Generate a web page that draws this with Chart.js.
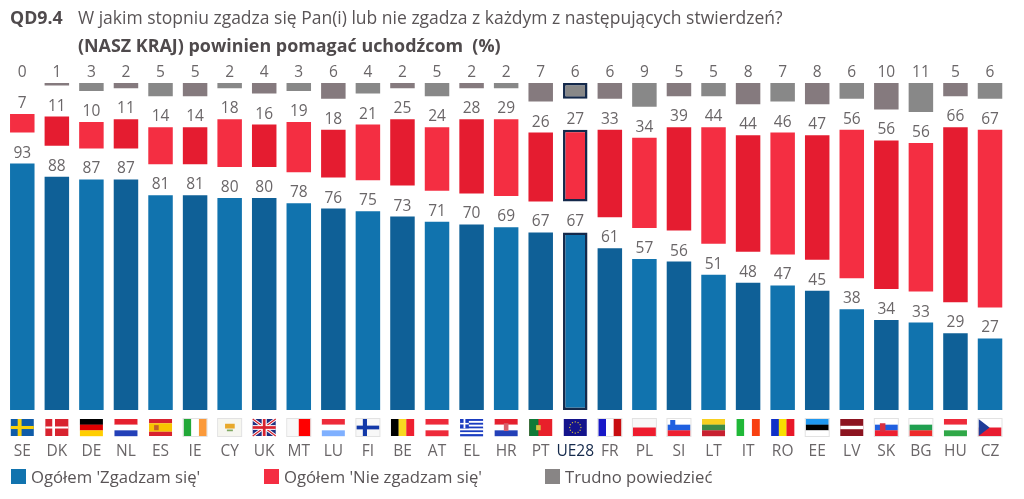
<!DOCTYPE html>
<html lang="pl"><head><meta charset="utf-8">
<style>
html,body{margin:0;padding:0;background:#fff;width:1024px;height:499px;overflow:hidden}
#wrap{position:relative;width:1024px;height:499px;font-family:"Open Sans",sans-serif;color:#595456}
canvas{position:absolute;left:0;top:0}
.t{position:absolute;white-space:nowrap}
.sw{position:absolute;width:15px;height:15px;top:469px}
.lg{position:absolute;top:465px;font-size:16.7px;white-space:nowrap}
</style></head><body>
<div id="wrap">
<canvas id="c" width="1024" height="499"></canvas>
<div class="t" style="left:10px;top:5px;font-size:17.8px;font-weight:700;color:#4f4a4c">QD9.4</div>
<div class="t" style="left:78px;top:5px;font-size:17.5px">W jakim stopniu zgadza się Pan(i) lub nie zgadza z każdym z następujących stwierdzeń?</div>
<div class="t" style="left:78px;top:33px;font-size:17.9px;font-weight:700;color:#4f4a4c">(NASZ KRAJ) powinien pomagać uchodźcom&nbsp; (%)</div>
<div class="sw" style="left:11px;background:#1173ae"></div><div class="lg" style="left:31px">Ogółem 'Zgadzam się'</div>
<div class="sw" style="left:264px;background:#f42e42"></div><div class="lg" style="left:284px">Ogółem 'Nie zgadzam się'</div>
<div class="sw" style="left:545px;background:#888585"></div><div class="lg" style="left:565px">Trudno powiedzieć</div>
</div>
<script src="https://cdn.jsdelivr.net/npm/chart.js@4"></script>
<script>
const categories=['SE','DK','DE','NL','ES','IE','CY','UK','MT','LU','FI','BE','AT','EL','HR','PT','UE28','FR','PL','SI','LT','IT','RO','EE','LV','SK','BG','HU','CZ'];
const agree=[93,88,87,87,81,81,80,80,78,76,75,73,71,70,69,67,67,61,57,56,51,48,47,45,38,34,33,29,27];
const disagree=[7,11,10,11,14,14,18,16,19,18,21,25,24,28,29,26,27,33,34,39,44,44,46,47,56,56,56,66,67];
const dontKnow=[0,1,3,2,5,5,2,4,3,6,4,2,5,2,2,7,6,6,9,5,5,8,7,8,6,10,11,5,6];
const GAP=11.7;
const gapValues=categories.map(()=>GAP);
const HI=categories.indexOf('UE28');
const alt=(a,b)=>categories.map((_,i)=>i%2?b:a);
const border=categories.map((_,i)=>i===HI?2.5:0);
const navy='#14294b';
const common={stack:'s',barPercentage:1,categoryPercentage:24.5/34.57,borderSkipped:false,borderColor:navy,borderWidth:border};
const spacer={stack:'s',barPercentage:1,categoryPercentage:24.5/34.57,backgroundColor:'rgba(0,0,0,0)',borderWidth:0,isSpacer:true};

const flags={
 SE:{draw:(g,x,y,w,h)=>{g('#0f5ca8',x,y,w,h);g('#f8d00a',x+w*.3,y,w*.17,h);g('#f8d00a',x,y+h*.41,w,h*.18)}},
 DK:{draw:(g,x,y,w,h)=>{g('#d8232f',x,y,w,h);g('#fff',x+w*.3,y,w*.12,h);g('#fff',x,y+h*.44,w,h*.12)}},
 DE:{h:['#000','#dd0000','#ffce00']},NL:{h:['#e5202e','#fff','#2340b8']},
 ES:{draw:(g,x,y,w,h)=>{g('#d8232f',x,y,w,h*.25);g('#f8c400',x,y+h*.25,w,h*.5);g('#d8232f',x,y+h*.75,w,h*.25);g('#c2612a',x+w*.22,y+h*.36,w*.2,h*.3)}},
 IE:{v:['#22a838','#fff','#fb9a3a']},
 CY:{draw:(g,x,y,w,h)=>{g('#f6f6f0',x,y,w,h);g('#e8a82a',x+w*.3,y+h*.28,w*.42,h*.28);g('#7fa860',x+w*.38,y+h*.62,w*.26,h*.1)}},
 UK:{draw:(g,x,y,w,h,c)=>{g('#1f2f80',x,y,w,h);c.strokeStyle='#fff';c.lineWidth=3;c.beginPath();c.moveTo(x,y);c.lineTo(x+w,y+h);c.moveTo(x+w,y);c.lineTo(x,y+h);c.stroke();c.strokeStyle='#d8232f';c.lineWidth=1.2;c.stroke();g('#fff',x,y+h*.36,w,h*.28);g('#fff',x+w*.39,y,w*.22,h);g('#d8232f',x,y+h*.42,w,h*.16);g('#d8232f',x+w*.44,y,w*.12,h)}},
 MT:{v:['#f8f8f8','#ff0000'],edge:1},LU:{h:['#ee2a3a','#fff','#7fb0ff']},
 FI:{draw:(g,x,y,w,h)=>{g('#f8f8f8',x,y,w,h);g('#1238a8',x+w*.28,y,w*.18,h);g('#1238a8',x,y+h*.39,w,h*.22)}},
 BE:{v:['#000','#f8d820','#ee2030']},AT:{h:['#ee2a3a','#fff','#ee2a3a']},
 EL:{draw:(g,x,y,w,h)=>{for(let i=0;i<9;i++)g(i%2?'#fff':'#1a3cc0',x,y+i*h/9,w,h/9+.3);g('#1a3cc0',x,y,w*.38,h*.55);g('#fff',x+w*.15,y,w*.08,h*.55);g('#fff',x,y+h*.23,w*.38,h*.09)}},
 HR:{h:['#e5202e','#fff','#2340b8'],crest:1},
 PT:{draw:(g,x,y,w,h)=>{g('#e8202a',x,y,w,h);g('#0f7a38',x,y,w*.4,h);g('#d8c040',x+w*.3,y+h*.36,w*.2,h*.3)}},
 UE28:{draw:(g,x,y,w,h,c)=>{g('#14148c',x,y,w,h);c.fillStyle='#c8b840';for(let i=0;i<12;i++){const a=i*Math.PI/6;c.fillRect(x+w/2+Math.cos(a)*h*.33-.6,y+h/2+Math.sin(a)*h*.33-.6,1.2,1.2)}}},
 FR:{v:['#1818c8','#fff','#c80d10']},PL:{h:['#f8f8f8','#ee1c2e']},
 SI:{h:['#fff','#2060e0','#ee2030'],crest2:1},LT:{h:['#f8d020','#3c8a48','#c82030']},
 IT:{v:['#20b838','#fff','#f84010']},RO:{v:['#1030c8','#f8e000','#e81828']},
 EE:{h:['#1f98f0','#000','#fff'],edge:1},
 LV:{draw:(g,x,y,w,h)=>{g('#8c1420',x,y,w,h);g('#fff',x,y+h*.4,w,h*.2)}},
 SK:{h:['#fff','#2060e0','#ee2030'],crest3:1},BG:{h:['#fff','#20a050','#ee2a2a'],edge:1},
 HU:{h:['#ee2a3a','#fff','#30a848']},
 CZ:{draw:(g,x,y,w,h,c)=>{g('#fff',x,y,w,h/2);g('#e81c30',x,y+h/2,w,h/2);c.fillStyle='#1f3c98';c.beginPath();c.moveTo(x,y);c.lineTo(x+w*.48,y+h/2);c.lineTo(x,y+h);c.fill()}}
};
const flagPlugin={id:'flags',afterDraw(ch){
 const c=ch.ctx,sx=ch.scales.x,w=23,h=17,y=419;
 const g=(col,a,b,cw,ch2)=>{c.fillStyle=col;c.fillRect(a,b,cw,ch2)};
 categories.forEach((n,i)=>{
  const x=sx.getPixelForValue(i)-w/2,f=flags[n];c.save();
  if(f.h){const s=h/f.h.length;f.h.forEach((col,k)=>g(col,x,y+k*s,w,s+.2))}
  else if(f.v){const s=w/f.v.length;f.v.forEach((col,k)=>g(col,x+k*s,y,s+.2,h))}
  else if(f.draw)f.draw(g,x,y,w,h,c);
  if(f.crest)g('#d8606a',x+w*.4,y+h*.25,w*.2,h*.45);
  if(f.crest2)g('#2060e0',x+w*.12,y+1,w*.22,h*.42);
  if(f.crest3)g('#d83040',x+w*.22,y+h*.25,w*.24,h*.5);
  if(f.edge||['PL','SI','SK','CY','FI','CZ','IE','FR'].includes(n)){c.strokeStyle='#e2e2e2';c.lineWidth=1;c.strokeRect(x-.5,y-.5,w+1,h+1)}
  c.restore();
 });
}};
const labelPlugin={id:'vals',afterDatasetsDraw(ch){
 const c=ch.ctx;c.save();c.font='15.5px "Open Sans",sans-serif';c.textAlign='center';c.textBaseline='alphabetic';c.fillStyle='#6a6668';
 ch.data.datasets.forEach((d,di)=>{ if(d.isSpacer)return;
  ch.getDatasetMeta(di).data.forEach((b,i)=>{
   c.fillText(String(d.labelValues[i]),b.x,(d.labelTopScale?ch.scales.y.getPixelForValue(100+2*GAP):Math.min(b.y,b.base))-6);
  });
 });c.restore();
}};
new Chart(document.getElementById('c'),{
 type:'bar',
 data:{labels:categories,datasets:[
  {...common,label:"Ogółem 'Zgadzam się'",data:agree,labelValues:agree,backgroundColor:alt('#1173ae','#0f6097')},
  {...spacer,label:'gap1',data:gapValues},
  {...common,label:"Ogółem 'Nie zgadzam się'",data:disagree,labelValues:disagree,backgroundColor:alt('#f42e42','#e51c30')},
  {...spacer,label:'gap2',data:gapValues},
  {...common,label:'Trudno powiedzieć',data:dontKnow,labelValues:dontKnow,labelTopScale:true,backgroundColor:alt('#888888','#857a7e')}
 ]},
 options:{responsive:false,animation:false,
  layout:{padding:{left:5,right:16.7,top:0,bottom:0}},
  plugins:{legend:{display:false},tooltip:{enabled:false},title:{display:false}},
  scales:{
   x:{stacked:true,position:'bottom',grid:{display:false},border:{display:false},
      ticks:{padding:24,autoSkip:false,maxRotation:0,font:{family:'"Open Sans",sans-serif',size:15.5},color:(t)=>t.index===HI?'#14294b':'#6a6668'},
      afterFit(s){s.height=499-410;s.paddingLeft=0;s.paddingRight=0}},
   y:{stacked:true,display:false,min:0,max:154.7,afterFit(s){s.width=0}}
  }
 },
 plugins:[labelPlugin,flagPlugin]
});
</script>
</body></html>
